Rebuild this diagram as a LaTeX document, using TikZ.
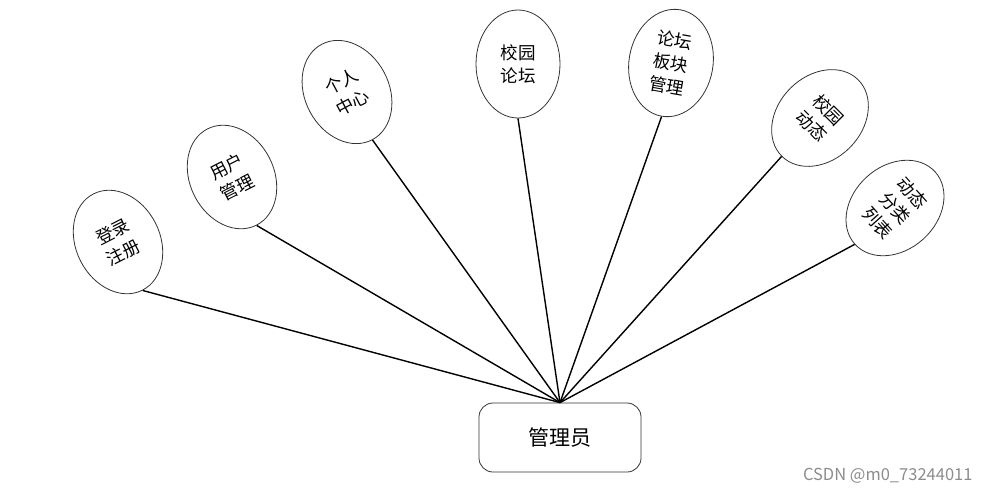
\documentclass[tikz,border=0pt]{standalone}
\usepackage{fontspec}
\setmainfont{Noto Sans CJK SC}
\usetikzlibrary{shapes.geometric}
\begin{document}
\begin{tikzpicture}[x=1pt,y=-1pt,
  oval/.style={draw=black!80, line width=0.8pt, ellipse, inner sep=0pt,
    minimum width=84pt, minimum height=108pt, align=center,
    font=\fontsize{17.5}{23}\selectfont},
  conn/.style={draw=black, line width=1.4pt},
  rootbox/.style={draw=black!80, line width=0.8pt, rounded corners=14pt,
    minimum width=162pt, minimum height=69pt, inner sep=0pt,
    font=\fontsize{21}{24}\selectfont}]
\useasboundingbox (0,0) rectangle (990,493);
\node[rootbox] (root) at (560,437.5) {管理员};
\node[oval, rotate=27] (e1) at (118,242) {登录\\注册};
\node[oval, rotate=27] (e2) at (232,177) {用户\\管理};
\node[oval, rotate=28] (e3) at (347,92) {个人\\中心};
\node[oval] (e4) at (518,64) {校园\\论坛};
\node[oval, rotate=-10] (e5) at (671,63) {论坛\\板块\\管理};
\node[oval, rotate=-45] (e6) at (820,118) {校园\\动态};
\node[oval, rotate=-48] (e7) at (895,208) {动态\\分类\\列表};
\foreach \e in {e1,e2,e3,e4,e5,e6,e7}
  \draw[conn] (\e.south) -- (root.north);
\node[anchor=east, text=black!45, font=\fontsize{16.5}{18}\selectfont] (wm) at (976,476) {CSDN @m0\_73244011};
\end{tikzpicture}
\end{document}
